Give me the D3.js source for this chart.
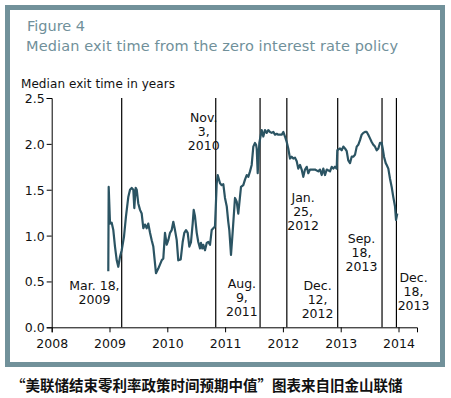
<!DOCTYPE html>
<html>
<head>
<meta charset="utf-8">
<script src="https://cdn.jsdelivr.net/npm/d3@7"></script>
<style>
  html, body { margin: 0; padding: 0; background: #fff; }
  svg { display: block; }
</style>
</head>
<body>
<svg id="chart" width="451" height="398"></svg>
<script>
// median exit time, decimal year / years
const years = [
  2008.979, 2008.986, 2009.009, 2009.038, 2009.066, 2009.095, 2009.125, 2009.152, 2009.182, 2009.211,
  2009.251, 2009.285, 2009.325, 2009.355, 2009.384, 2009.412, 2009.429, 2009.453, 2009.471, 2009.498,
  2009.528, 2009.557, 2009.585, 2009.614, 2009.644, 2009.671, 2009.701, 2009.730, 2009.758, 2009.804,
  2009.844, 2009.903, 2009.931, 2009.960, 2009.990, 2010.017, 2010.047, 2010.076, 2010.104, 2010.133,
  2010.163, 2010.190, 2010.232, 2010.266, 2010.294, 2010.324, 2010.353, 2010.381, 2010.410, 2010.439,
  2010.457, 2010.479, 2010.509, 2010.536, 2010.566, 2010.583, 2010.606, 2010.623, 2010.652, 2010.682,
  2010.709, 2010.739, 2010.768, 2010.796, 2010.825, 2010.855, 2010.872, 2010.912, 2010.941, 2010.969,
  2010.998, 2011.028, 2011.055, 2011.073, 2011.102, 2011.131, 2011.171, 2011.201, 2011.228, 2011.275,
  2011.315, 2011.344, 2011.374, 2011.401, 2011.431, 2011.460, 2011.488, 2011.517, 2011.536, 2011.547,
  2011.564, 2011.592, 2011.633, 2011.661, 2011.690, 2011.720, 2011.747, 2011.777, 2011.806, 2011.834,
  2011.863, 2011.893, 2011.920, 2011.979, 2012.007, 2012.036, 2012.066, 2012.093, 2012.123, 2012.152,
  2012.180, 2012.209, 2012.239, 2012.266, 2012.296, 2012.325, 2012.353, 2012.382, 2012.412, 2012.439,
  2012.469, 2012.498, 2012.555, 2012.612, 2012.642, 2012.671, 2012.699, 2012.728, 2012.758, 2012.815,
  2012.844, 2012.872, 2012.901, 2012.931, 2012.941, 2012.988, 2013.017, 2013.045, 2013.074, 2013.104,
  2013.131, 2013.161, 2013.190, 2013.218, 2013.247, 2013.277, 2013.304, 2013.334, 2013.363, 2013.391,
  2013.420, 2013.450, 2013.477, 2013.507, 2013.536, 2013.564, 2013.593, 2013.623, 2013.651, 2013.680,
  2013.709, 2013.727, 2013.749, 2013.779, 2013.796, 2013.824, 2013.853, 2013.882, 2013.910, 2013.939,
  2013.957, 2013.979
];
const exitTime = [
  0.61, 1.53, 1.13, 1.14, 1.06, 0.88, 0.73, 0.66, 0.77, 0.84,
  0.99, 1.21, 1.42, 1.50, 1.52, 1.50, 1.30, 1.52, 1.50, 1.35,
  1.28, 1.24, 1.08, 1.12, 1.08, 1.13, 1.03, 0.95, 0.88, 0.59,
  0.64, 0.73, 0.75, 1.03, 0.90, 0.95, 1.03, 1.06, 1.15, 1.06,
  0.95, 0.73, 0.74, 0.93, 1.03, 1.06, 1.03, 0.88, 0.93, 1.13,
  1.28, 1.21, 1.03, 0.93, 0.86, 0.92, 0.86, 0.90, 0.84, 0.92,
  0.93, 0.90, 1.06, 1.08, 1.10, 1.57, 1.66, 1.57, 1.55, 1.56,
  1.41, 1.32, 1.15, 1.06, 0.79, 1.04, 1.41, 1.37, 1.24, 1.53,
  1.55, 1.61, 1.66, 1.64, 1.70, 1.77, 1.97, 2.01, 1.99, 1.95,
  1.68, 2.01, 2.15, 2.08, 2.15, 2.12, 2.15, 2.13, 2.12, 2.13,
  2.10, 2.11, 2.10, 2.10, 2.13, 2.08, 2.02, 1.95, 1.84, 1.86,
  1.84, 1.85, 1.81, 1.73, 1.77, 1.72, 1.64, 1.72, 1.75, 1.68,
  1.72, 1.72, 1.72, 1.70, 1.72, 1.66, 1.73, 1.66, 1.72, 1.70,
  1.75, 1.73, 1.75, 1.73, 1.93, 1.95, 1.93, 1.97, 1.95, 1.92,
  1.82, 1.79, 1.86, 1.86, 1.88, 1.97, 1.99, 2.04, 2.10, 2.12,
  2.13, 2.13, 2.10, 2.06, 2.02, 1.99, 1.97, 1.93, 1.95, 2.01,
  2.01, 1.95, 1.86, 1.79, 1.77, 1.73, 1.62, 1.53, 1.42, 1.32,
  1.17, 1.24
];

// FOMC events
const eventYears = [2009.211, 2010.838, 2011.605, 2012.068, 2012.948, 2013.715, 2013.964];
const eventLabels = [
  ["Mar. 18,", "2009"],
  ["Nov.", "3,", "2010"],
  ["Aug.", "9,", "2011"],
  ["Jan.", "25,", "2012"],
  ["Dec.", "12,", "2012"],
  ["Sep.", "18,", "2013"],
  ["Dec.", "18,", "2013"]
];
const yTicks = [0, 0.5, 1.0, 1.5, 2.0, 2.5];
const xTicks = [2008, 2009, 2010, 2011, 2012, 2013, 2014];

const svg = d3.select("#chart");
const font = "'DejaVu Sans', Verdana, sans-serif";

// frame
svg.append("rect")
  .attr("x", 7.5).attr("y", 7.5)
  .attr("width", 435).attr("height", 357)
  .attr("fill", "#fff")
  .attr("stroke", "#71919a")
  .attr("stroke-width", 5);

// titles
svg.append("text")
  .attr("x", 27).attr("y", 31)
  .attr("fill", "#70909a")
  .style("font-family", font).style("font-size", "14.5px")
  .attr("textLength", 58)
  .text("Figure 4");
svg.append("text")
  .attr("x", 26).attr("y", 51)
  .attr("fill", "#70909a")
  .style("font-family", font).style("font-size", "14.5px")
  .attr("textLength", 372)
  .text("Median exit time from the zero interest rate policy");
svg.append("text")
  .attr("x", 21).attr("y", 88)
  .attr("fill", "#111")
  .style("font-family", font).style("font-size", "12px")
  .attr("textLength", 154)
  .text("Median exit time in years");

const x = d3.scaleLinear().domain([2008, 2014.32]).range([51.7, 417]);
const y = d3.scaleLinear().domain([0, 2.5]).range([327.3, 98]);

// axes
const xAxis = svg.append("g")
  .attr("transform", `translate(0,${y(0)})`)
  .call(d3.axisBottom(x).tickValues(xTicks).tickFormat(d3.format("d")).tickSizeOuter(0).tickSize(5));
const yAxis = svg.append("g")
  .attr("transform", `translate(${x(2008)},0)`)
  .call(d3.axisLeft(y).tickValues(yTicks).tickFormat(d3.format(".1f")).tickSizeOuter(0).tickSize(5));

[xAxis, yAxis].forEach((g) => {
  g.selectAll("path, line").attr("stroke", "#000").attr("stroke-width", 1);
  g.selectAll("text")
    .attr("fill", "#111")
    .style("font-family", font)
    .style("font-size", "12.5px");
});
xAxis.selectAll("text").attr("dy", "1.0em");
yAxis.selectAll("text").attr("x", -7).attr("dy", "0.36em");

// event lines
svg.append("g")
  .selectAll("line")
  .data(eventYears)
  .join("line")
  .attr("x1", (d) => x(d)).attr("x2", (d) => x(d))
  .attr("y1", y(2.5)).attr("y2", y(0))
  .attr("stroke", "#000")
  .attr("stroke-width", 1.2);

// series
const series = years.map((d, i) => ({ year: d, value: exitTime[i] }));
svg.append("path")
  .datum(series)
  .attr("fill", "none")
  .attr("stroke", "#2b5463")
  .attr("stroke-width", 2.2)
  .attr("stroke-linejoin", "round")
  .attr("d", d3.line().x((d) => x(d.year)).y((d) => y(d.value)));

// event labels: centre x (in years) and top baseline (in years value)
const labelPos = [
  [2008.74, 0.405],
  [2010.63, 2.235],
  [2011.29, 0.43],
  [2012.35, 1.365],
  [2012.60, 0.41],
  [2013.36, 0.915],
  [2014.26, 0.495]
];
const labels = svg.append("g")
  .style("font-family", font)
  .style("font-size", "12.5px")
  .attr("fill", "#111")
  .attr("text-anchor", "middle");
eventLabels.forEach((lines, i) => {
  const t = labels.append("text")
    .attr("x", x(labelPos[i][0]))
    .attr("y", y(labelPos[i][1]));
  lines.forEach((s, j) => {
    t.append("tspan")
      .attr("x", x(labelPos[i][0]))
      .attr("dy", j === 0 ? 0 : 14)
      .text(s);
  });
});

// caption
svg.append("text")
  .attr("x", 11).attr("y", 391)
  .attr("fill", "#111")
  .style("font-family", "'Noto Sans CJK SC', sans-serif")
  .style("font-size", "14.5px")
  .style("font-weight", "bold")
  .text("“美联储结束零利率政策时间预期中值”图表来自旧金山联储");
</script>
</body>
</html>
